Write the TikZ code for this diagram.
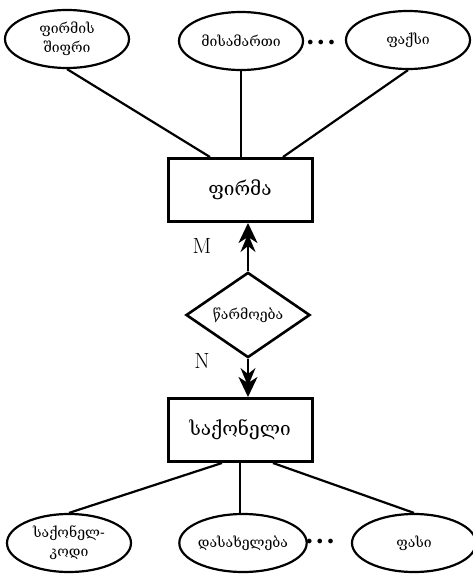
\documentclass[tikz,border=0pt]{standalone}
\usepackage{fontspec}
\newfontfamily\geo{DejaVu Serif}
\usepackage{tikz}
\usetikzlibrary{shapes.geometric,arrows.meta}

\begin{document}
\begin{tikzpicture}[x=1pt,y=-1pt,
	attr/.style={draw,ellipse,line width=2.2pt,minimum width=124pt,minimum height=58pt,inner sep=0pt,align=center,font=\geo\fontsize{14}{19}\selectfont},
	entity/.style={draw,rectangle,line width=3pt,minimum width=144pt,minimum height=63pt,font=\geo\fontsize{19}{21}\selectfont},
	relation/.style={draw,diamond,line width=2.6pt,minimum width=124pt,minimum height=82pt,inner sep=0pt,font=\geo\fontsize{14}{16}\selectfont},
	link/.style={line width=2.2pt},
	card/.style={font=\fontsize{22}{24}\selectfont},
	dots/.style={font=\fontsize{12}{14}\selectfont},
	dbl/.style={line width=2.2pt,-{Stealth[length=18pt,width=15pt,inset=6pt,sep=-9pt]Stealth[length=20pt,width=19pt,inset=6pt]}}]
			\useasboundingbox (0,0) rectangle (472,576);
			\node[attr] (firmcode) at (67,39) {ფირმის\\შიფრი};
			\node[attr] (address) at (241,41) {მისამართი};
			\node[attr] (fax) at (408,40) {ფაქსი};
			\node[dots] (dotsa) at (321,43) {$\bullet\,\bullet\,\bullet$};
			\node[entity] (firm) at (240,190) {ფირმა};
			\node[relation] (produce) at (248,315) {წარმოება};
			\node[entity] (goods) at (240,430) {საქონელი};
			\node[attr] (goodscode) at (69,543) {საქონელ-\\კოდი};
			\node[attr] (title) at (243,543) {დასახელება};
			\node[attr] (price) at (414,543) {ფასი};
			\node[dots] (dotsb) at (320,542) {$\bullet\,\bullet\,\bullet$};
			\node[card] (m) at (202,246) {M};
			\node[card] (n) at (202,361) {N};

			\draw[link] (firmcode.south) -- ([xshift=-30pt]firm.north);
			\draw[link] (address.south) -- (address.south |- firm.north);
			\draw[link] (fax.south) -- ([xshift=43pt]firm.north);
			\draw[dbl] (produce.north) -- (produce.north |- firm.south);
			\draw[dbl] (produce.south) -- (produce.south |- goods.north);
			\draw[link] ([xshift=-18pt]goods.south) -- (goodscode.north);
			\draw[link] (goods.south) -- (goods.south |- title.north);
			\draw[link] ([xshift=33pt]goods.south) -- (price.north);
\end{tikzpicture}
\end{document}
